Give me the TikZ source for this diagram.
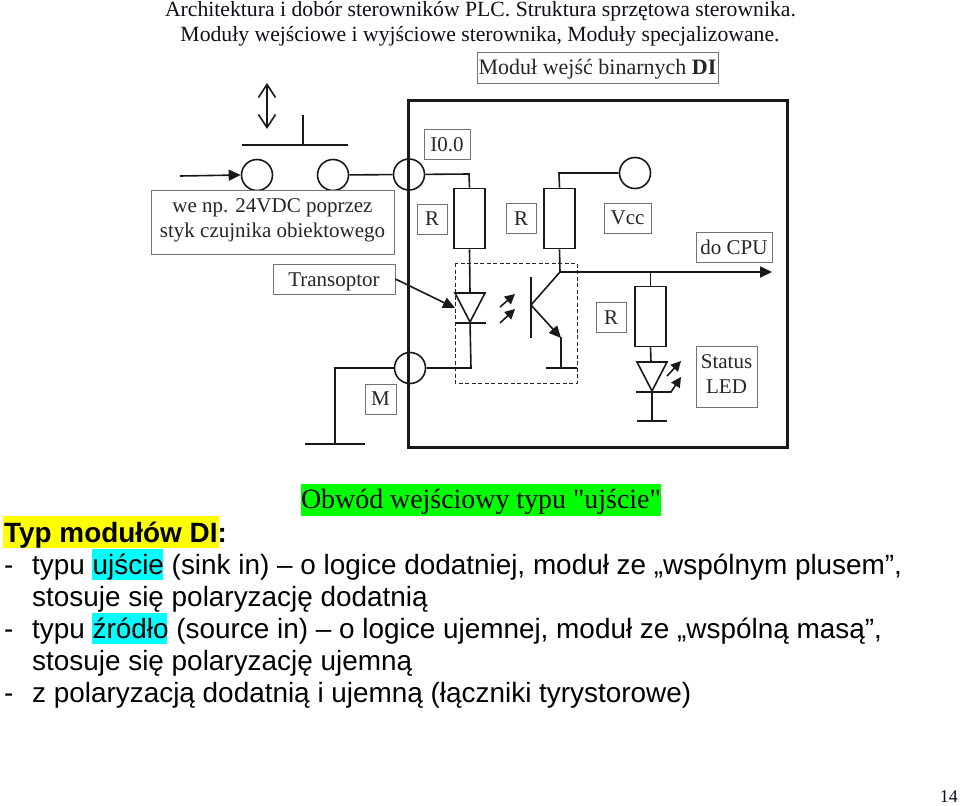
\documentclass[tikz,border=0pt]{standalone}
\usepackage{fontspec}
\setmainfont{Liberation Serif}
\newfontfamily\arialf[Ligatures=TeX]{Liberation Sans}
\newfontfamily\capf{Liberation Serif}
\usetikzlibrary{arrows.meta}
\definecolor{headink}{RGB}{15,15,25}
\definecolor{hlgreen}{RGB}{0,255,0}
\definecolor{hlcyan}{RGB}{0,255,255}
\definecolor{hlyellow}{RGB}{255,255,0}
\tikzset{
  x=1pt,y=-1pt,
  wire/.style={line width=1.6pt,black!90},
  heavy/.style={line width=3pt,black!90},
  scanbox/.style={draw=black!55,line width=0.8pt,fill=white,inner sep=0pt,minimum width=#1,font=\fontsize{21}{25}\selectfont,align=center,text=black!85},
  scantext/.style={inner sep=0pt,font=\fontsize{21}{25}\selectfont,align=center,text=black!85},
  term/.style={circle,draw=black!90,line width=1.6pt,minimum size=31pt,inner sep=0pt},
  resist/.style={draw=black!90,line width=1.6pt,minimum width=30.5pt,minimum height=60pt,inner sep=0pt},
  head/.style={text=headink,font=\fontsize{21.7}{25}\selectfont,inner sep=0pt,anchor=base},
  body/.style={font=\arialf\fontsize{27.9}{32}\selectfont,inner sep=0pt,anchor=base west},
  fillarrow/.style={wire,-{Triangle[length=12pt,width=11pt]}},
  smallarrow/.style={wire,-{Triangle[length=10pt,width=10pt]}},
  openarrow/.style={wire,{Straight Barb[length=13pt,width=17pt]}-{Straight Barb[length=13pt,width=17pt]}}
}
\begin{document}
\begin{tikzpicture}
\useasboundingbox (0,0) rectangle (960,805);
% header
\node[head] (h1) at (480.5,17) {Architektura i dobór sterowników PLC. Struktura sprzętowa sterownika.};
\node[head] (h2) at (480,42) {Moduły wejściowe i wyjściowe sterownika, Moduły specjalizowane.};
% module frame
\draw[heavy] (408,101) rectangle (787,447);
\node[scanbox=241pt,minimum height=31pt] (mod) at (597.5,67.5) {};
\node[scantext,font=\fontsize{22}{26}\selectfont] (modt) at (597.5,69.5) {Moduł wejść binarnych \textbf{DI}};
% terminals
\node[term] (c1) at (257,175) {};
\node[term] (c2) at (333,175) {};
\node[term] (c3) at (409,174.5) {};
\node[term] (c4) at (410,368) {};
\node[term] (c5) at (635,173) {};
% switch
\coordinate (inS) at (180,176);
\draw[fillarrow] (inS) -- (c1.west);
\coordinate (barL) at (242,145); \coordinate (barR) at (348,145); \coordinate (stem) at (303,115);
\draw[wire] (barL) -- (barR);
\draw[wire] (stem) -- (303,145);
\coordinate (dblT) at (267,83); \coordinate (dblB) at (267,129);
\draw[openarrow] (dblT) -- (dblB);
\draw[wire] (c2) -- (c3);
% labels
\node[scanbox=243pt,minimum height=64pt] (we) at (272.5,222) {};
\node[scantext] (wet) at (272.5,220) {we np. 24VDC poprzez\\styk czujnika obiektowego};
\node[scanbox=122pt,minimum height=30pt] (tr) at (334,279) {};
\node[scantext] (trt) at (334,282) {Transoptor};
\node[scanbox=46pt,minimum height=30pt] (i0) at (447,144) {};
\node[scantext] (i0t) at (447,145) {I0.0};
\node[scanbox=30pt,minimum height=30pt] (r1l) at (432,219) {R};
\node[scanbox=31pt,minimum height=30pt] (ml) at (380.5,399) {M};
\node[scanbox=30pt,minimum height=30pt] (r2l) at (521,218.5) {R};
\node[scanbox=47pt,minimum height=30pt] (vl) at (627.5,218) {Vcc};
\node[scanbox=76pt,minimum height=30pt] (cpu) at (734,247) {do CPU};
\node[scanbox=30pt,minimum height=30pt] (r3l) at (611,317.5) {R};
\node[scanbox=61pt,minimum height=61pt] (st) at (726.5,376.5) {};
\node[scantext] (stt) at (726.5,374.5) {Status\\LED};
% ground left
\coordinate (gl) at (335,444);
\draw[wire] (c4.west) -- (335,368) -- (gl);
\draw[wire] (305,444) -- (365,444);
% resistors
\node[resist] (r1) at (469.5,218.5) {};
\node[resist] (r2) at (559.5,218.5) {};
\node[resist] (r3) at (650.5,316.5) {};
\draw[wire] (c3) -- (469,174) -- (r1.north);
\draw[wire] (c5) -- (559,173) -- (r2.north);
% transoptor
\draw[black!85,line width=1pt,dash pattern=on 4pt off 2.5pt] (455,263) rectangle (577,383);
\coordinate (d1a) at (470,322);
\draw[wire] (r1.south) -- (470,293);
\draw[wire,line join=miter] (455,293) -- (485,293) -- (d1a) -- cycle;
\draw[wire] (455,323) -- (486,323);
\draw[wire] (d1a) -- (471,368) -- (c4.east);
\draw[fillarrow] (tr.east) -- (455,308);
\draw[smallarrow] (500,307) -- (515,294);
\draw[smallarrow] (500,323) -- (515,309);
% transistor
\coordinate (jn) at (560,272);
\draw[wire] (r2.south) -- (jn);
\draw[fillarrow] (jn) -- (772,272);
\draw[wire] (531,277) -- (531,338);
\draw[wire] (jn) -- (531,305);
\draw[fillarrow] (531,305) -- (561,338);
\draw[wire] (561,337) -- (561,368);
\draw[wire] (546,368) -- (577,368);
% status LED branch
\draw[wire] (650.5,272) -- (r3.north);
\coordinate (d2a) at (652,391);
\draw[wire] (r3.south) -- (651,362);
\draw[wire,line join=miter] (637,362) -- (667,362) -- (d2a) -- cycle;
\draw[wire] (636,392) -- (666,392);
\draw[smallarrow] (666,392) -- (671,392) -- (681,377);
\draw[smallarrow] (667,376) -- (681,361);
\coordinate (g2) at (652,421);
\draw[wire] (d2a) -- (g2);
\draw[wire] (637,421) -- (667,421);
% caption
\fill[hlgreen] (301,484) rectangle (661,516);
\node[font=\capf\fontsize{27.9}{32}\selectfont,inner sep=0pt] (cap) at (481,502) {Obwód wejściowy typu "ujście"};
% body
\fill[hlyellow] (3,516) rectangle (219,548);
\fill[hlcyan] (92,549) rectangle (163,580);
\fill[hlcyan] (92,613) rectangle (167,644);
\node[body] (t1) at (4,542) {\textbf{Typ modułów DI:}};
\node[body] (t2) at (4,574) {-};
\node[body] (t2b) at (32,574) {typu ujście (sink in) – o logice dodatniej, moduł ze „wspólnym plusem”,};
\node[body] (t3) at (32,606) {stosuje się polaryzację dodatnią};
\node[body] (t4) at (4,638) {-};
\node[body] (t4b) at (32,638) {typu źródło (source in) – o logice ujemnej, moduł ze „wspólną masą”,};
\node[body] (t5) at (32,670) {stosuje się polaryzację ujemną};
\node[body] (t6) at (4,702) {-};
\node[body] (t6b) at (32,702) {z polaryzacją dodatnią i ujemną (łączniki tyrystorowe)};
\node[font=\fontsize{18}{20}\selectfont,text=headink,inner sep=0pt,anchor=base east] (pg) at (958,802) {14};
\end{tikzpicture}
\end{document}
